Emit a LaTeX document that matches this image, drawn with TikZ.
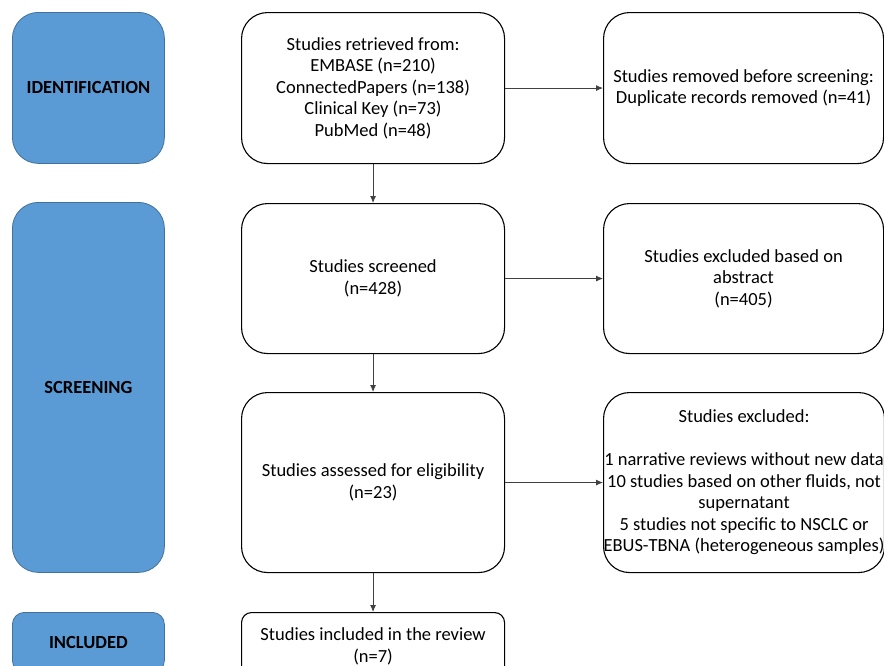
\documentclass[tikz,border=0pt]{standalone}
\usepackage{fontspec}
\setmainfont{Carlito}
\usetikzlibrary{arrows.meta,positioning}
\definecolor{phaseblue}{RGB}{91,155,213}
\definecolor{phaseedge}{RGB}{65,113,156}
\definecolor{flowgray}{RGB}{64,64,64}

\begin{document}
\begin{tikzpicture}[x=1pt,y=-1pt,
		font=\fontsize{18.5pt}{21.5pt}\selectfont,
		phase/.style={draw=phaseedge,fill=phaseblue,line width=0.8pt,rounded corners=26pt,
			font=\fontsize{18.5pt}{21.5pt}\selectfont\bfseries,align=center,inner sep=0pt,anchor=north west},
		studybox/.style={draw=black,line width=1.1pt,rounded corners=26pt,
			align=center,inner sep=0pt,anchor=north west},
		flow/.style={-{Latex[length=7pt,width=6pt]},draw=flowgray,line width=0.8pt}]
		\useasboundingbox (0,0) rectangle (884,665);
		% phases
		\node[phase,minimum width=152pt,minimum height=151pt] (ident) at (12,12) {IDENTIFICATION};
		\node[phase,minimum width=152pt,minimum height=370pt] (screen) at (12,202) {SCREENING};
		\node[phase,minimum width=152pt,minimum height=60pt,rounded corners=12pt] (incl) at (12,612) {INCLUDED};
		
		%% main column
		\node[studybox,minimum width=263pt,minimum height=151pt] (retrieved) at (241,12)
			{Studies retrieved from:\\EMBASE (n=210)\\ConnectedPapers (n=138)\\Clinical Key (n=73)\\PubMed (n=48)};
		\node[studybox,minimum width=263pt,minimum height=150pt] (screened) at (241,203)
			{Studies screened\\(n=428)};
		\node[studybox,minimum width=263pt,minimum height=180pt] (assessed) at (241,392)
			{Studies assessed for eligibility\\(n=23)};
		\node[studybox,minimum width=263pt,minimum height=68pt,rounded corners=10pt] (included) at (241,612)
			{Studies included in the review\\(n=7)};
		
		%% exclusions
		\node[studybox,minimum width=280pt,minimum height=151pt] (removed) at (603,12)
			{Studies removed before screening:\\Duplicate records removed (n=41)};
		\node[studybox,minimum width=280pt,minimum height=150pt] (abstract) at (603,203)
			{Studies excluded based on\\abstract\\(n=405)};
		\node[studybox,minimum width=280pt,minimum height=180pt] (excluded) at (603,392)
			{Studies excluded:\\[21.5pt]1 narrative reviews without new data\\10 studies based on other fluids, not\\supernatant\\5 studies not specific to NSCLC or\\EBUS-TBNA (heterogeneous samples)};
		
		% arrows
		\draw[flow] (retrieved) -- (screened);
		\draw[flow] (screened) -- (assessed);
		\draw[flow] (assessed) -- (included);
		\draw[flow] (retrieved) -- (removed);
		\draw[flow] (screened) -- (abstract);
		\draw[flow] (assessed) -- (excluded);
	\end{tikzpicture}
\end{document}
